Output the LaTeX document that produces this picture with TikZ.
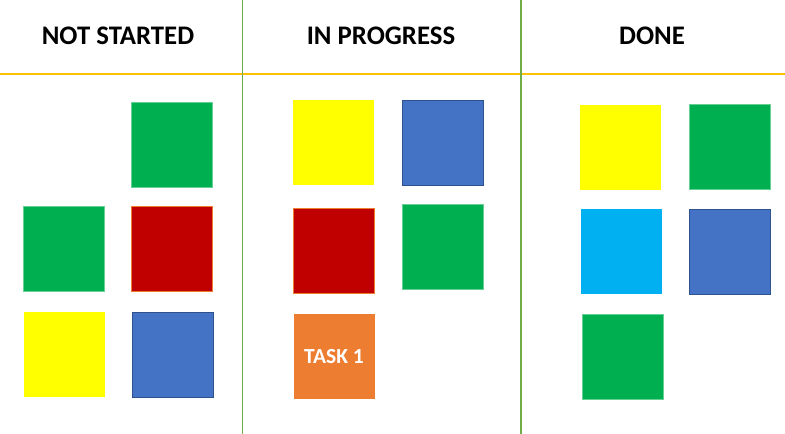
\documentclass[tikz,border=0pt]{standalone}
\usepackage{fontspec}
\setmainfont{Carlito}
\definecolor{sgreen}{HTML}{00B050}
\definecolor{sred}{HTML}{C00000}
\definecolor{syellow}{HTML}{FFFF00}
\definecolor{sblue}{HTML}{4472C4}
\definecolor{sbluedark}{HTML}{2F528F}
\definecolor{scyan}{HTML}{00B0F0}
\definecolor{sorange}{HTML}{ED7D31}
\definecolor{lgreen}{HTML}{70AD47}
\definecolor{lgold}{HTML}{FFC000}
\tikzset{
  sq/.style={minimum width=81pt, minimum height=85pt, inner sep=0pt, outer sep=0pt, line width=0.8pt},
  gsq/.style={sq, fill=sgreen, draw=sgreen!60!white},
  rsq/.style={sq, fill=sred, draw=sorange},
  ysq/.style={sq, fill=syellow},
  bsq/.style={sq, fill=sblue, draw=sbluedark},
  csq/.style={sq, fill=scyan},
  osq/.style={sq, fill=sorange, text=white, font=\bfseries\fontsize{21.5}{25}\selectfont},
  head/.style={font=\bfseries\fontsize{26.8}{31}\selectfont, text=black},
  sep/.style={draw=lgreen, line width=1.6pt},
  rule/.style={draw=lgold, line width=1.8pt}
}
\begin{document}
\begin{tikzpicture}[x=1pt,y=-1pt]
\useasboundingbox[fill=white] (0,0) rectangle (785,434);
% lines
\coordinate (htl) at (0,74);
\coordinate (htr) at (785,74);
\coordinate (v1t) at (242.5,0);
\coordinate (v1b) at (242.5,434);
\coordinate (v2t) at (521,0);
\coordinate (v2b) at (521,434);
\draw[rule] (htl) -- (htr);
\draw[sep] (v1t) -- (v1b);
\draw[sep] (v2t) -- (v2b);
% headers
\node[head] (h1) at (118,35.5) {NOT STARTED};
\node[head] (h2) at (381,35.5) {IN PROGRESS};
\node[head] (h3) at (652,35.5) {DONE};
% not started
\node[gsq] (a1) at (171.5,144.5) {};
\node[gsq] (a2) at (63.5,248.5) {};
\node[rsq] (a3) at (171.5,248.5) {};
\node[ysq] (a4) at (64.5,354.5) {};
\node[bsq] (a5) at (172.5,354.5) {};
% in progress
\node[ysq] (b1) at (333.5,142.5) {};
\node[bsq] (b2) at (442.5,142.5) {};
\node[rsq] (b3) at (334,251) {};
\node[gsq] (b4) at (442.5,246.5) {};
\node[osq] (b5) at (334,356.5) {TASK 1};
% done
\node[ysq] (c1) at (620.5,147) {};
\node[gsq] (c2) at (729.5,147) {};
\node[csq] (c3) at (621.5,251.5) {};
\node[bsq] (c4) at (729.5,251.5) {};
\node[gsq] (c5) at (622.5,356.5) {};
\end{tikzpicture}
\end{document}
